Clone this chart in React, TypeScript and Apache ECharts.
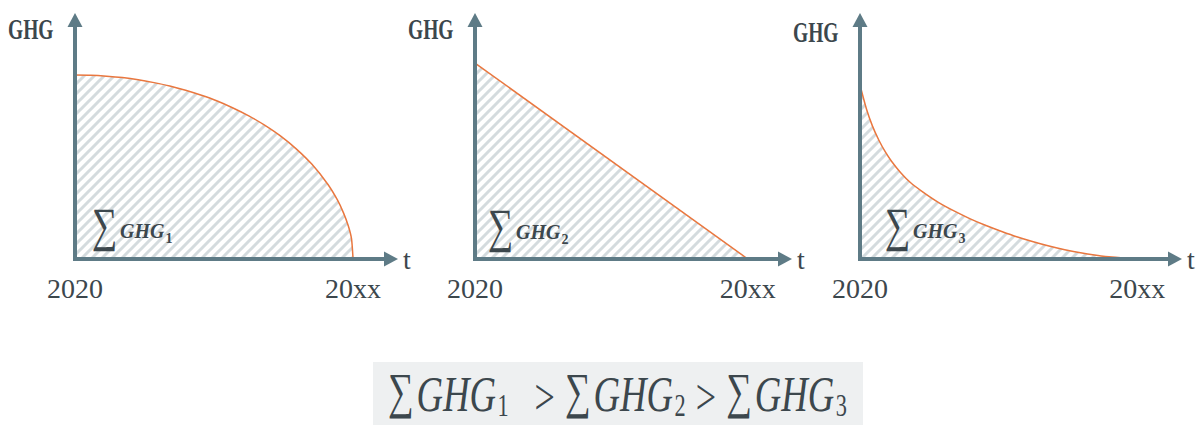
import React, { useEffect, useRef } from 'react';
import * as echarts from 'echarts';

// ---------- data ----------
const xTickValues = [0, 88];
const xTickLabels = ['2020', '20xx'];
const timeAxisName = 't';
const ghgAxisName = 'GHG';
const sumSubscripts = ['1', '2', '3'];

// panel 1: slowly falling (concave) path
const curve1X = [0, 5, 10, 15, 20, 25, 30, 35, 40, 45, 50, 55, 60, 65, 70, 75, 80, 83, 85, 86.5, 87.5, 88];
const curve1Y = [77, 76.9, 76.5, 75.9, 75, 73.8, 72.4, 70.6, 68.5, 66.1, 63.2, 59.9, 56, 51.5, 46.1, 39.6, 31.3, 24.8, 19.2, 13.8, 8.5, 0];
// panel 2: linear path
const curve2X = [0, 88];
const curve2Y = [82, 0];
// panel 3: fast falling (convex) path
const curve3X = [0, 2, 4, 6, 8, 10, 13, 16, 20, 25, 30, 35, 40, 45, 50, 55, 60, 65, 70, 75, 80, 88];
const curve3Y = [72.8, 63, 55.5, 49.7, 44.9, 40.9, 36, 32, 28, 23.6, 20, 16.8, 14, 11.5, 9.2, 7.2, 5.4, 3.9, 2.6, 1.6, 0.8, 0];

const curvesX = [curve1X, curve2X, curve3X];
const curvesY = [curve1Y, curve2Y, curve3Y];
const curveSmooth = [0.2, false, 0.2];

// ---------- style ----------
const AXIS_COLOR = '#5e7b86';
const LINE_COLOR = '#e9773f';
const TEXT_COLOR = '#3c474d';
const HATCH_COLOR = '#d4dbde';
const SERIF = '"Liberation Serif", "DejaVu Serif", serif';

const grids = [
  { left: 75, top: 20, width: 316, height: 239 },
  { left: 475, top: 20, width: 310, height: 239 },
  { left: 860, top: 20, width: 315, height: 239 },
];
const ghgPos = [
  [8, 28],
  [408, 28],
  [793, 31],
];
const sumPos = [
  [92, 231],
  [488, 232],
  [885, 231],
];

function makeHatch(): string {
  const c = document.createElement('canvas');
  c.width = 10;
  c.height = 10;
  const ctx = c.getContext('2d')!;
  ctx.fillStyle = '#ffffff';
  ctx.fillRect(0, 0, 10, 10);
  ctx.strokeStyle = HATCH_COLOR;
  ctx.lineWidth = 3;
  ctx.beginPath();
  ctx.moveTo(-2, 12);
  ctx.lineTo(12, -2);
  ctx.moveTo(-2, 2);
  ctx.lineTo(2, -2);
  ctx.moveTo(8, 12);
  ctx.lineTo(12, 8);
  ctx.stroke();
  return c.toDataURL();
}

function sumLabel(x: number, y: number, sub: string) {
  return [
    {
      type: 'text',
      x,
      y: y - 6,
      scaleX: 0.74,
      z: 30,
      style: {
        text: '∑',
        font: `48px ${SERIF}`,
        fill: TEXT_COLOR,
        align: 'left',
        verticalAlign: 'middle',
      },
    },
    {
      type: 'text',
      x: x + 28,
      y,
      z: 30,
      style: {
        text: `{g|GHG}{n|${sub}}`,
        fill: TEXT_COLOR,
        align: 'left',
        verticalAlign: 'middle',
        rich: {
          g: { fontFamily: SERIF, fontSize: 20, fontWeight: 'bold', fontStyle: 'italic', fill: TEXT_COLOR },
          n: { fontFamily: SERIF, fontSize: 14, fontWeight: 'bold', fill: TEXT_COLOR, padding: [14, 0, 0, 1] },
        },
      },
    },
  ];
}

export default function App() {
  const ref = useRef<HTMLDivElement>(null);
  useEffect(() => {
    if (!ref.current) return;
    const chart = echarts.init(ref.current, undefined, { renderer: 'svg' });
    const hatch = makeHatch();

    const axisLine = {
      show: true,
      symbol: ['none', 'triangle'],
      symbolSize: [15, 14],
      lineStyle: { color: AXIS_COLOR, width: 4, cap: 'square' },
    };

    const option: any = {
      animation: false,
      backgroundColor: '#ffffff',
      grid: grids.map((g) => ({ ...g, containLabel: false })),
      xAxis: grids.map((_, i) => ({
        type: 'value',
        gridIndex: i,
        min: 0,
        max: 100,
        interval: xTickValues[1],
        z: 5,
        axisLine,
        axisTick: { show: false },
        splitLine: { show: false },
        axisLabel: {
          margin: 15,
          fontFamily: SERIF,
          fontSize: 28,
          color: TEXT_COLOR,
          formatter: (v: number) => {
            const k = xTickValues.indexOf(v);
            return k >= 0 ? xTickLabels[k] : '';
          },
        },
        name: timeAxisName,
        nameLocation: 'end',
        nameGap: 12,
        nameTextStyle: {
          fontFamily: SERIF,
          fontSize: 28,
          color: TEXT_COLOR,
          verticalAlign: 'middle',
          align: 'left',
        },
      })),
      yAxis: grids.map((_, i) => ({
        type: 'value',
        gridIndex: i,
        min: 0,
        max: 100,
        z: 5,
        axisLine,
        axisTick: { show: false },
        splitLine: { show: false },
        axisLabel: { show: false },
      })),
      series: curvesX.map((xs, i) => ({
        type: 'line',
        xAxisIndex: i,
        yAxisIndex: i,
        data: xs.map((x, j) => [x, curvesY[i][j]]),
        smooth: curveSmooth[i],
        showSymbol: false,
        silent: true,
        z: 2,
        lineStyle: { color: LINE_COLOR, width: 1.5 },
        areaStyle: {
          color: { image: hatch, repeat: 'repeat', imageWidth: 10, imageHeight: 10 },
          opacity: 1,
        },
      })),
      graphic: [
        ...ghgPos.map(([x, y]) => ({
          type: 'text',
          x,
          y,
          scaleX: 0.65,
          z: 30,
          style: {
            text: ghgAxisName,
            font: `bold 30px ${SERIF}`,
            fill: TEXT_COLOR,
            align: 'left',
            verticalAlign: 'middle',
          },
        })),
        ...sumPos.flatMap(([x, y], i) => sumLabel(x, y, sumSubscripts[i])),
        {
          type: 'rect',
          z: 10,
          shape: { x: 373, y: 362, width: 490, height: 63 },
          style: { fill: '#eef0f1' },
        },
        {
          type: 'text',
          x: 388,
          y: 394,
          scaleX: 0.72,
          z: 30,
          style: {
            text:
              `{s|∑}{g|GHG}{n|${sumSubscripts[0]}}{gt1|>}` +
              `{s|∑}{g|GHG}{n|${sumSubscripts[1]}}{gt2|>}` +
              `{s|∑}{g|GHG}{n|${sumSubscripts[2]}}`,
            fill: TEXT_COLOR,
            align: 'left',
            verticalAlign: 'middle',
            rich: {
              s: { fontFamily: SERIF, fontSize: 50, fill: TEXT_COLOR, padding: [0, 4, 6, 0] },
              g: { fontFamily: SERIF, fontSize: 51, fontStyle: 'italic', fill: TEXT_COLOR },
              n: { fontFamily: SERIF, fontSize: 31, fill: TEXT_COLOR, padding: [24, 0, 0, 2] },
              gt1: { fontFamily: SERIF, fontSize: 50, fill: TEXT_COLOR, padding: [6, 14, 0, 36] },
              gt2: { fontFamily: SERIF, fontSize: 50, fill: TEXT_COLOR, padding: [6, 14, 0, 14] },
            },
          },
        },
      ],
    };
    chart.setOption(option);
    return () => chart.dispose();
  }, []);
  return (
    <div
      ref={ref}
      style={{ position: 'absolute', left: 0, top: 0, width: 1203, height: 428 }}
    />
  );
}
